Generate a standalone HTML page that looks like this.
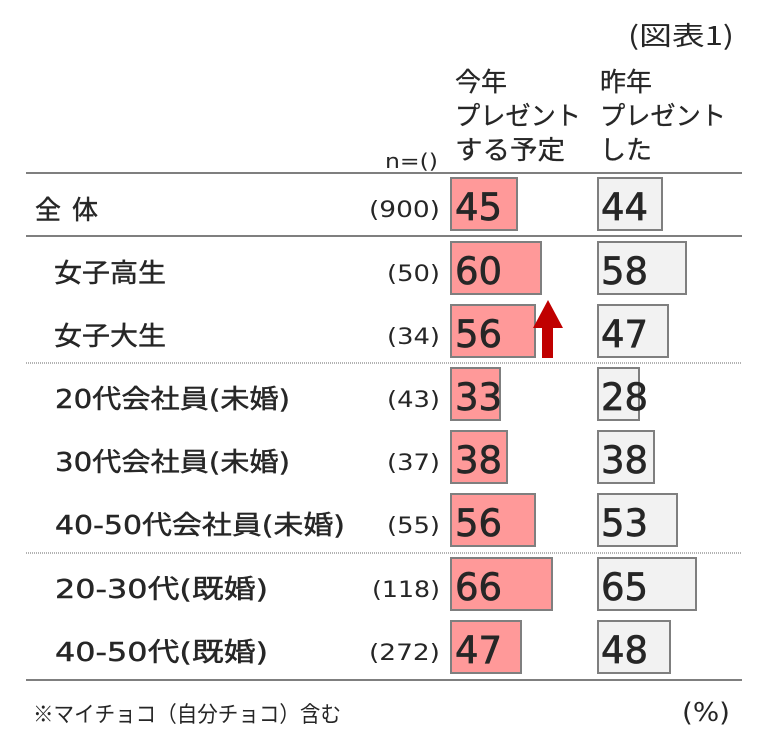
<!DOCTYPE html>
<html>
<head>
<meta charset="utf-8">
<style>
html,body{margin:0;padding:0;background:#fff;}
svg{display:block;}
text{font-family:"DejaVu Sans","Noto Sans CJK JP",sans-serif;fill:#262626;}
.jp{font-family:"Noto Sans CJK JP","DejaVu Sans",sans-serif;}
</style>
</head>
<body>
<svg width="768" height="745" viewBox="0 0 768 745" xmlns="http://www.w3.org/2000/svg">
<rect width="768" height="745" fill="#fff"/>

<!-- title -->
<text class="jp" x="628" y="45" font-size="26" textLength="106" lengthAdjust="spacingAndGlyphs">(図表1)</text>

<!-- headers -->
<g stroke="#262626" stroke-width="0.3">
<text class="jp" x="455" y="91" font-size="26">今年</text>
<text class="jp" x="455" y="125" font-size="26" textLength="126" lengthAdjust="spacingAndGlyphs">プレゼント</text>
<text class="jp" x="455" y="159" font-size="26" textLength="110" lengthAdjust="spacingAndGlyphs">する予定</text>
<text class="jp" x="600" y="91" font-size="26">昨年</text>
<text class="jp" x="600" y="125" font-size="26" textLength="126" lengthAdjust="spacingAndGlyphs">プレゼント</text>
<text class="jp" x="600" y="159" font-size="26">した</text>
</g>
<text x="385" y="168" font-size="20" fill="#333" textLength="53" lengthAdjust="spacingAndGlyphs">n=()</text>

<!-- lines -->
<g stroke="#7f7f7f" stroke-width="2">
<line x1="26" y1="173" x2="742" y2="173"/>
<line x1="26" y1="236" x2="742" y2="236"/>
<line x1="26" y1="680" x2="742" y2="680"/>
</g>
<g stroke="#9a9a9a" stroke-width="1.5" stroke-dasharray="1 1">
<line x1="26" y1="363" x2="742" y2="363"/>
<line x1="26" y1="553" x2="742" y2="553"/>
</g>

<!-- bars -->
<g stroke="#7f7f7f" stroke-width="2">
<rect x="451" y="178" width="66" height="52" fill="#ff9999"/>
<rect x="598" y="178" width="64" height="52" fill="#f2f2f2"/>

<rect x="451" y="242" width="90" height="52" fill="#ff9999"/>
<rect x="598" y="242" width="88" height="52" fill="#f2f2f2"/>

<rect x="451" y="305" width="84" height="52" fill="#ff9999"/>
<rect x="598" y="305" width="70" height="52" fill="#f2f2f2"/>

<rect x="451" y="368" width="49" height="52" fill="#ff9999"/>
<rect x="598" y="368" width="41" height="52" fill="#f2f2f2"/>

<rect x="451" y="431" width="56" height="52" fill="#ff9999"/>
<rect x="598" y="431" width="56" height="52" fill="#f2f2f2"/>

<rect x="451" y="494" width="84" height="52" fill="#ff9999"/>
<rect x="598" y="494" width="79" height="52" fill="#f2f2f2"/>

<rect x="451" y="558" width="101" height="52" fill="#ff9999"/>
<rect x="598" y="558" width="98" height="52" fill="#f2f2f2"/>

<rect x="451" y="621" width="70" height="52" fill="#ff9999"/>
<rect x="598" y="621" width="72" height="52" fill="#f2f2f2"/>
</g>

<!-- arrow -->
<polygon points="548,300 563,328 553,328 553,358 542,358 542,328 533,328" fill="#c00000"/>

<!-- values -->
<g font-size="37" stroke="#262626" stroke-width="0.7">
<text x="455" y="220">45</text><text x="601" y="220">44</text>
<text x="455" y="284">60</text><text x="601" y="284">58</text>
<text x="455" y="347">56</text><text x="601" y="347">47</text>
<text x="455" y="410">33</text><text x="601" y="410">28</text>
<text x="455" y="473">38</text><text x="601" y="473">38</text>
<text x="455" y="536">56</text><text x="601" y="536">53</text>
<text x="455" y="600">66</text><text x="601" y="600">65</text>
<text x="455" y="663">47</text><text x="601" y="663">48</text>
</g>

<!-- labels -->
<g font-size="26" stroke="#262626" stroke-width="0.45">
<text class="jp" x="35" y="219">全</text>
<text class="jp" x="72" y="219">体</text>
<text class="jp" x="54" y="282" textLength="112" lengthAdjust="spacingAndGlyphs">女子高生</text>
<text class="jp" x="54" y="345" textLength="112" lengthAdjust="spacingAndGlyphs">女子大生</text>
<text x="55" y="408" textLength="235" lengthAdjust="spacingAndGlyphs">20代会社員(未婚)</text>
<text x="55" y="471" textLength="235" lengthAdjust="spacingAndGlyphs">30代会社員(未婚)</text>
<text x="55" y="534" textLength="290" lengthAdjust="spacingAndGlyphs">40-50代会社員(未婚)</text>
<text x="55" y="598" textLength="213" lengthAdjust="spacingAndGlyphs">20-30代(既婚)</text>
<text x="55" y="661" textLength="213" lengthAdjust="spacingAndGlyphs">40-50代(既婚)</text>
</g>

<!-- n values -->
<g font-size="22" fill="#333">
<text x="369" y="217" textLength="71" lengthAdjust="spacingAndGlyphs">(900)</text>
<text x="387" y="281" textLength="53" lengthAdjust="spacingAndGlyphs">(50)</text>
<text x="387" y="344" textLength="53" lengthAdjust="spacingAndGlyphs">(34)</text>
<text x="387" y="407" textLength="53" lengthAdjust="spacingAndGlyphs">(43)</text>
<text x="387" y="470" textLength="53" lengthAdjust="spacingAndGlyphs">(37)</text>
<text x="387" y="533" textLength="53" lengthAdjust="spacingAndGlyphs">(55)</text>
<text x="372" y="597" textLength="68" lengthAdjust="spacingAndGlyphs">(118)</text>
<text x="369" y="660" textLength="71" lengthAdjust="spacingAndGlyphs">(272)</text>
</g>

<!-- footer -->
<text class="jp" x="33" y="722" font-size="22" textLength="308" lengthAdjust="spacingAndGlyphs">※マイチョコ（自分チョコ）含む</text>
<text x="682" y="721" font-size="26" textLength="48" lengthAdjust="spacingAndGlyphs">(%)</text>
</svg>
</body>
</html>
